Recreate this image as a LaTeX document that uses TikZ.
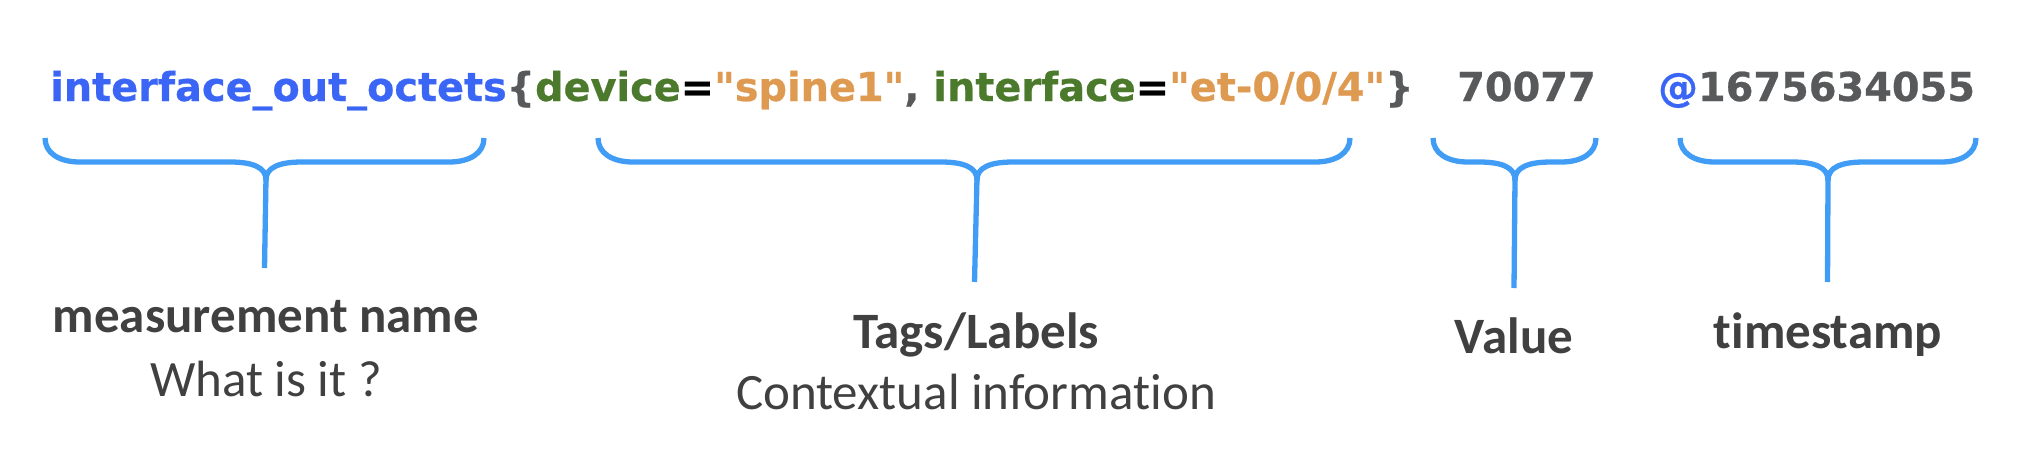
\documentclass[tikz,border=0pt]{standalone}
\usepackage{fontspec}
\setmainfont{Carlito}[Ligatures=NoCommon]
\newfontfamily\codefont{DejaVu Sans}[BoldFeatures={FakeBold=0.6}]
\definecolor{cblue}{HTML}{3B66F5}
\definecolor{cgreen}{HTML}{4C7A2D}
\definecolor{corange}{HTML}{DF9A52}
\definecolor{cgray}{HTML}{58595B}
\definecolor{ltext}{HTML}{404040}
\definecolor{bblue}{HTML}{419CF5}
\tikzset{
  code/.style={inner sep=0pt, anchor=base west, font=\codefont\bfseries\fontsize{39.8}{47}\selectfont},
  lbl/.style={inner sep=0pt, anchor=base, text=ltext, font=\bfseries\fontsize{51}{60}\selectfont},
  sublbl/.style={inner sep=0pt, anchor=base, text=ltext, font=\fontsize{51}{60}\selectfont},
  bracestyle/.style={draw=bblue, line width=5.3pt, line join=round},
}
\newcommand\bracepath[3]{%
  \draw[bracestyle] (#1,138) .. controls (#1,153) and (#1+14,162) .. (#1+35,162)
    -- (#2-36,162) .. controls (#2-14,162) and (#2,167) .. (#2,180)
    .. controls (#2,167) and (#2+14,162) .. (#2+36,162)
    -- (#3-35,162) .. controls (#3-14,162) and (#3,153) .. (#3,138);}
\begin{document}
\begin{tikzpicture}[x=1pt,y=-1pt]
\useasboundingbox (0,0) rectangle (2020,450);
% metric line
\node[code] (metric) at (50,101) {\color{cblue}interface\_out\_octets\color{cgray}\{\color{cgreen}device\color{black}=\color{corange}"spine1"\color{cgray}, \color{cgreen}interface\color{black}=\color{corange}"et-0/0/4"\color{cgray}\}};
\node[code, text=cgray] (value) at (1457,101) {70077};
\node[code] (stamp) at (1658,101) {\color{cblue}@\color{cgray}1675634055};
% braces
\bracepath{45}{266}{484}
\bracepath{598}{977}{1350}
\bracepath{1433}{1515}{1596}
\bracepath{1680}{1828}{1976}
\coordinate (c1) at (266,178); \coordinate (e1) at (264.5,268);
\coordinate (c2) at (977,178); \coordinate (e2) at (974.5,282);
\coordinate (c3) at (1515,178); \coordinate (e3) at (1514,288);
\coordinate (c4) at (1828,178); \coordinate (e4) at (1827.5,282);
\foreach \i in {1,2,3,4} { \draw[bracestyle] (c\i) -- (e\i); }
% labels
\node[lbl] (mname) at (266,332) {measurement name};
\node[sublbl] (msub) at (266,396) {What is it ?};
\node[lbl] (tags) at (976,348) {Tags/Labels};
\node[sublbl] (tsub) at (976,409) {Contextual information};
\node[lbl] (val) at (1514,353) {Value};
\node[lbl] (tsl) at (1828,348) {timestamp};
\end{tikzpicture}
\end{document}
